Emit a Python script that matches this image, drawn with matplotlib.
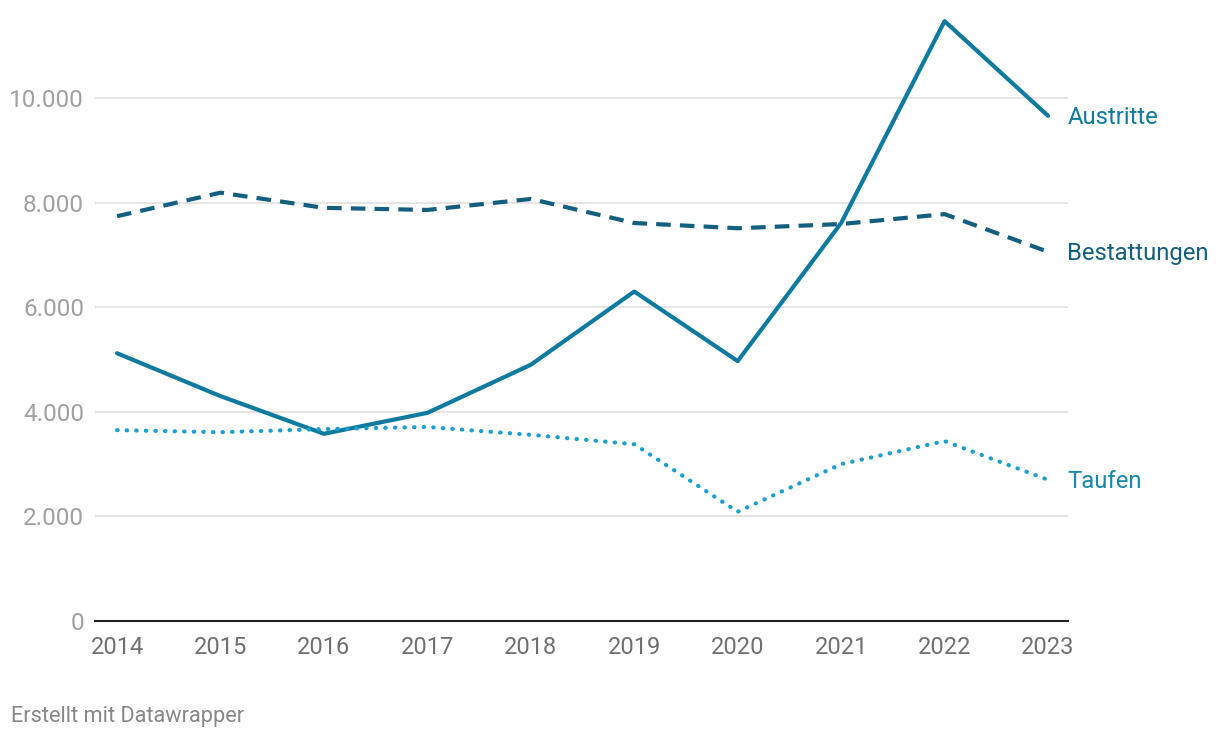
import matplotlib.pyplot as plt
from matplotlib.ticker import FuncFormatter

plt.rcParams['font.family'] = ['Roboto', 'DejaVu Sans']

years = [2014, 2015, 2016, 2017, 2018, 2019, 2020, 2021, 2022, 2023]
austritte = [5120, 4300, 3580, 3980, 4900, 6300, 4970, 7610, 11470, 9660]
bestattungen = [7740, 8190, 7900, 7860, 8070, 7610, 7510, 7590, 7780, 7060]
taufen = [3650, 3610, 3670, 3710, 3560, 3380, 2090, 3000, 3440, 2700]

c_aus = '#0f7aa0'
c_best = '#145f7f'
c_tauf = '#1a9fd0'

fig = plt.figure(figsize=(12.2, 7.38), dpi=100)
ax = fig.add_axes([0.0779, 0.1585, 0.7975, 0.815])

ax.plot(years, austritte, color=c_aus, lw=3, solid_capstyle='round', clip_on=False)
ax.plot(years, bestattungen, color=c_best, lw=3, dashes=(3.5, 2.2), clip_on=False)
ax.plot(years, taufen, color=c_tauf, lw=3, dashes=(0.1, 2.2), dash_capstyle='round', clip_on=False)

ax.set_xlim(2013.787, 2023.193)
ax.set_ylim(0, 11500)
ax.set_yticks([0, 2000, 4000, 6000, 8000, 10000])
ax.yaxis.set_major_formatter(FuncFormatter(lambda v, p: f'{int(v):,}'.replace(',', '.')))
ax.set_xticks(years)

ax.grid(axis='y', color='#e0e0e0', lw=1.2)
ax.set_axisbelow(True)
for s in ['top', 'right', 'left']:
    ax.spines[s].set_visible(False)
ax.spines['bottom'].set_color('#222222')
ax.spines['bottom'].set_linewidth(1.5)
ax.tick_params(axis='y', length=0, pad=8, labelsize=17.5, labelcolor='#a0a0a0')
ax.tick_params(axis='x', length=0, pad=11, labelsize=17, labelcolor='#707070')

label_colors = {'Austritte': c_aus, 'Bestattungen': c_best, 'Taufen': '#1787ad'}
for label, vals in [('Austritte', austritte), ('Bestattungen', bestattungen), ('Taufen', taufen)]:
    ax.annotate(label, (years[-1], vals[-1]), xytext=(14, -1), textcoords='offset points',
                color=label_colors[label], fontsize=17.2, va='center', ha='left', annotation_clip=False)

fig.text(0.009, 0.022, 'Erstellt mit Datawrapper', fontsize=15.7, color='#888888')

fig.savefig('out.png', dpi=100)
